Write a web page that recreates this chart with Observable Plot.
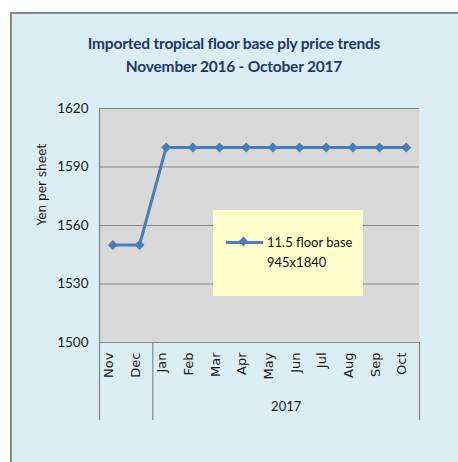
<!DOCTYPE html>
<html><head><meta charset="utf-8">
<script src="https://cdn.jsdelivr.net/npm/d3@7"></script>
<script src="https://cdn.jsdelivr.net/npm/@observablehq/plot@0.6"></script>
<style>
body{margin:0;background:#fff;width:458px;height:462px;overflow:hidden;position:relative;font-family:Lato,sans-serif}
#panel{position:absolute;left:10px;top:12px;width:460px;height:460px;background:#dbeef4;border:2px solid #8a8a8a;box-sizing:border-box}
#title{position:absolute;left:10px;width:448px;top:32px;text-align:center;color:#1f3864;font-weight:bold;font-size:15.5px;line-height:23px;letter-spacing:-0.2px}
#chart{position:absolute;left:0;top:0}
#legend{position:absolute;left:213px;top:210px;width:150px;height:86px;background:#ffffcc;font-size:13px;color:#111}
#legend .sw{position:absolute;left:13px;top:31px;width:37px;height:3px;background:#4a7ebb}
#legend .dm{position:absolute;left:27px;top:28px;width:7px;height:7px;background:#4a7ebb;transform:rotate(45deg)}
#legend .t1{position:absolute;left:54px;top:24px;line-height:16px}
#legend .t2{position:absolute;left:54px;top:44px;line-height:16px}
</style></head>
<body>
<div id="panel"></div>
<div id="title"></div>
<div id="chart"></div>
<div id="legend"><div class="sw"></div><div class="dm"></div><div class="t1"></div><div class="t2"></div></div>
<script>
const titleLines = ["Imported tropical floor base ply price trends", "November 2016 - October 2017"];
const months = ["Nov","Dec","Jan","Feb","Mar","Apr","May","Jun","Jul","Aug","Sep","Oct"];
const prices = [1550,1550,1600,1600,1600,1600,1600,1600,1600,1600,1600,1600];
const yTicks = [1500,1530,1560,1590,1620];
const yLabel = "Yen per sheet";
const yearLabel = "2017";
const seriesName = "11.5 floor base";
const seriesSize = "945x1840";

document.getElementById("title").innerHTML = titleLines.join("<br>");
document.querySelector("#legend .t1").textContent = seriesName;
document.querySelector("#legend .t2").textContent = seriesSize;

const data = months.map((m, i) => ({i, m, price: prices[i]}));
const yearStart = months.indexOf("Jan");
const n = months.length;
const grid = "#868686";
const blue = "#4a7ebb";

const chart = Plot.plot({
  width: 458, height: 462,
  marginLeft: 99, marginRight: 39, marginTop: 108, marginBottom: 120,
  style: {background: "transparent", fontFamily: "Lato, sans-serif", color: "#1a1a1a"},
  x: {domain: [-0.5, n - 0.5], axis: null},
  y: {domain: [yTicks[0], yTicks[yTicks.length - 1]], axis: null},
  marks: [
    Plot.frame({fill: "#d9d9d9"}),
    Plot.ruleY(yTicks, {stroke: grid, strokeWidth: 1.2}),
    Plot.ruleX([-0.5], {stroke: grid, strokeWidth: 1.2, insetBottom: -78}),
    Plot.ruleX([yearStart - 0.5, n - 0.5], {stroke: grid, strokeWidth: 1.2, insetTop: 234, insetBottom: -78}),
    Plot.axisY({ticks: yTicks, tickFormat: d => String(d), tickSize: 0, tickPadding: 11, fontSize: 13.5, label: null}),
    Plot.text([yLabel], {frameAnchor: "left", rotate: -90, dx: -57, fontSize: 12, fontFamily: "DejaVu Sans", style: "letter-spacing:1.3px"}),
    Plot.text(months, {x: (d, i) => i, frameAnchor: "bottom", rotate: -90, textAnchor: "end", dy: 10, fontSize: 13, fontFamily: "DejaVu Sans"}),
    Plot.text([yearLabel], {x: (yearStart + n - 1) / 2, frameAnchor: "bottom", dy: 68, fontSize: 13}),
    Plot.line(data, {x: "i", y: "price", stroke: blue, strokeWidth: 3}),
    Plot.dot(data, {x: "i", y: "price", symbol: "diamond2", fill: blue, stroke: blue, r: 3.6})
  ]
});
document.getElementById("chart").appendChild(chart);
</script>
</body></html>
